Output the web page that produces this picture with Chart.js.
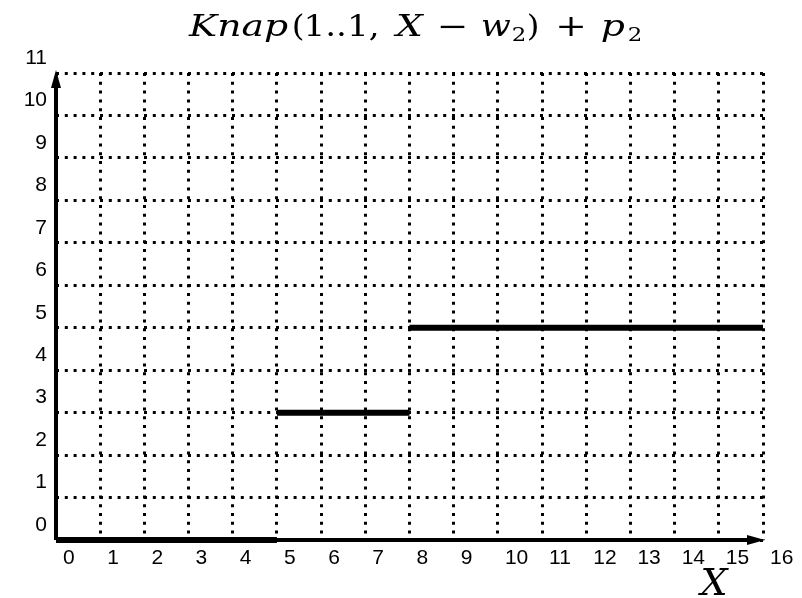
<!DOCTYPE html>
<html>
<head>
<meta charset="utf-8">
<script src="https://cdn.jsdelivr.net/npm/chart.js@4/dist/chart.umd.min.js"></script>
<style>
  html, body { margin: 0; padding: 0; background: #fff; }
  #wrap { width: 802px; height: 598px; }
</style>
</head>
<body>
<div id="wrap"><canvas id="knap"></canvas></div>
<script>
// Capacity values X and the value of Knap(1..1, X - w2) + p2 for each one
var capacities = [0, 1, 2, 3, 4, 5, 6, 7, 8, 9, 10, 11, 12, 13, 14, 15];
var knapValues = [0, 0, 0, 0, 0, 3, 3, 3, 5, 5, 5, 5, 5, 5, 5, 5];
var xTicks = [0, 1, 2, 3, 4, 5, 6, 7, 8, 9, 10, 11, 12, 13, 14, 15, 16];
var yTicks = [0, 1, 2, 3, 4, 5, 6, 7, 8, 9, 10, 11];

// Each capacity covers one cell; runs of equal value become one flat segment
function buildSteps() {
    var pts = [];
    for (var i = 0; i < capacities.length; i++) {
        var v = knapValues[i];
        pts.push({ x: capacities[i], y: v });
        pts.push({ x: capacities[i] + 1, y: v });
        if (i + 1 < capacities.length && knapValues[i + 1] !== v) {
            pts.push({ x: capacities[i] + 1, y: null });
        }
    }
    return pts;
}

// Title in math style: [text, kind, left, right] with italic letters,
// upright digits and small subscripts; each run sits centred in its slot
var titleRuns = [
    ['Knap', 'i', 182, 293], ['(', 'r', 294, 303], ['1..1,', 'r', 307, 377],
    ['X', 'i', 390, 428], ['\u2212', 'r', 438, 468], ['w', 'i', 482, 511],
    ['2', 's', 513, 525], [')', 'r', 529, 538], ['+', 'r', 555, 588],
    ['p', 'i', 598, 628], ['2', 's', 629, 641]
];

function runFont(kind) {
    if (kind === 'i') return 'italic 29px "DejaVu Serif"';
    if (kind === 's') return '19px "DejaVu Serif"';
    return '29px "DejaVu Serif"';
}

var decorations = {
    id: 'decorations',
    afterDraw: function(chart) {
        var ctx = chart.ctx;
        var a = chart.chartArea;
        ctx.save();

        // axes with arrow heads
        ctx.strokeStyle = '#000';
        ctx.fillStyle = '#000';
        ctx.lineWidth = 4;
        ctx.beginPath();
        ctx.moveTo(a.left, a.bottom);
        ctx.lineTo(a.right - 10, a.bottom);
        ctx.moveTo(a.left, a.bottom);
        ctx.lineTo(a.left, a.top + 10);
        ctx.stroke();

        ctx.beginPath();
        ctx.moveTo(a.right + 2, a.bottom);
        ctx.lineTo(a.right - 16, a.bottom - 5);
        ctx.lineTo(a.right - 16, a.bottom + 5);
        ctx.closePath();
        ctx.fill();

        ctx.beginPath();
        ctx.moveTo(a.left, a.top - 3);
        ctx.lineTo(a.left - 5, a.top + 15);
        ctx.lineTo(a.left + 5, a.top + 15);
        ctx.closePath();
        ctx.fill();

        // title
        ctx.textBaseline = 'alphabetic';
        ctx.textAlign = 'left';
        titleRuns.forEach(function(r) {
            ctx.font = runFont(r[1]);
            var m = ctx.measureText(r[0]);
            var ink = m.actualBoundingBoxLeft + m.actualBoundingBoxRight;
            var slot = r[3] - r[2];
            var sx = ink > 0 ? Math.max(0.85, Math.min(1.3, slot / ink)) : 1;
            ctx.save();
            ctx.translate(r[2] + (slot - ink * sx) / 2, r[1] === 's' ? 41 : 36);
            ctx.scale(sx, 1);
            ctx.fillText(r[0], m.actualBoundingBoxLeft, 0);
            ctx.restore();
        });

        // x-axis name
        ctx.font = 'italic 38px "DejaVu Serif"';
        ctx.textAlign = 'center';
        ctx.fillText('X', 714, 595);
        ctx.restore();
    }
};

var tickFont = { family: '"Liberation Sans", Arial, sans-serif', size: 21 };

new Chart(document.getElementById('knap'), {
    type: 'line',
    data: {
        datasets: [{
            data: buildSteps(),
            borderColor: '#000',
            borderWidth: 6,
            borderCapStyle: 'butt',
            pointRadius: 0,
            spanGaps: false,
            clip: false
        }]
    },
    options: {
        responsive: true,
        maintainAspectRatio: false,
        animation: false,
        layout: { padding: { top: 73, right: 39, left: 0, bottom: 0 } },
        plugins: {
            legend: { display: false },
            tooltip: { enabled: false }
        },
        scales: {
            x: {
                type: 'linear',
                min: 0,
                max: 16,
                afterBuildTicks: function(scale) {
                    scale.ticks = xTicks.map(function(v) { return { value: v }; });
                },
                afterFit: function(scale) { scale.height = 58; },
                grid: { color: '#000', lineWidth: 3, drawTicks: false },
                border: { display: false, dash: [3, 5.8] },
                ticks: {
                    color: '#000',
                    font: tickFont,
                    align: 'start',
                    labelOffset: 7,
                    padding: 6,
                    maxRotation: 0,
                    autoSkip: false
                }
            },
            y: {
                type: 'linear',
                min: 0,
                max: 11,
                afterBuildTicks: function(scale) {
                    scale.ticks = yTicks.map(function(v) { return { value: v }; });
                },
                afterFit: function(scale) { scale.width = 56; },
                grid: { color: '#000', lineWidth: 3, drawTicks: false },
                border: { display: false, dash: [3, 5.8] },
                ticks: {
                    color: '#000',
                    font: tickFont,
                    labelOffset: -15,
                    padding: 9,
                    autoSkip: false
                }
            }
        }
    },
    plugins: [decorations]
});
</script>
</body>
</html>
